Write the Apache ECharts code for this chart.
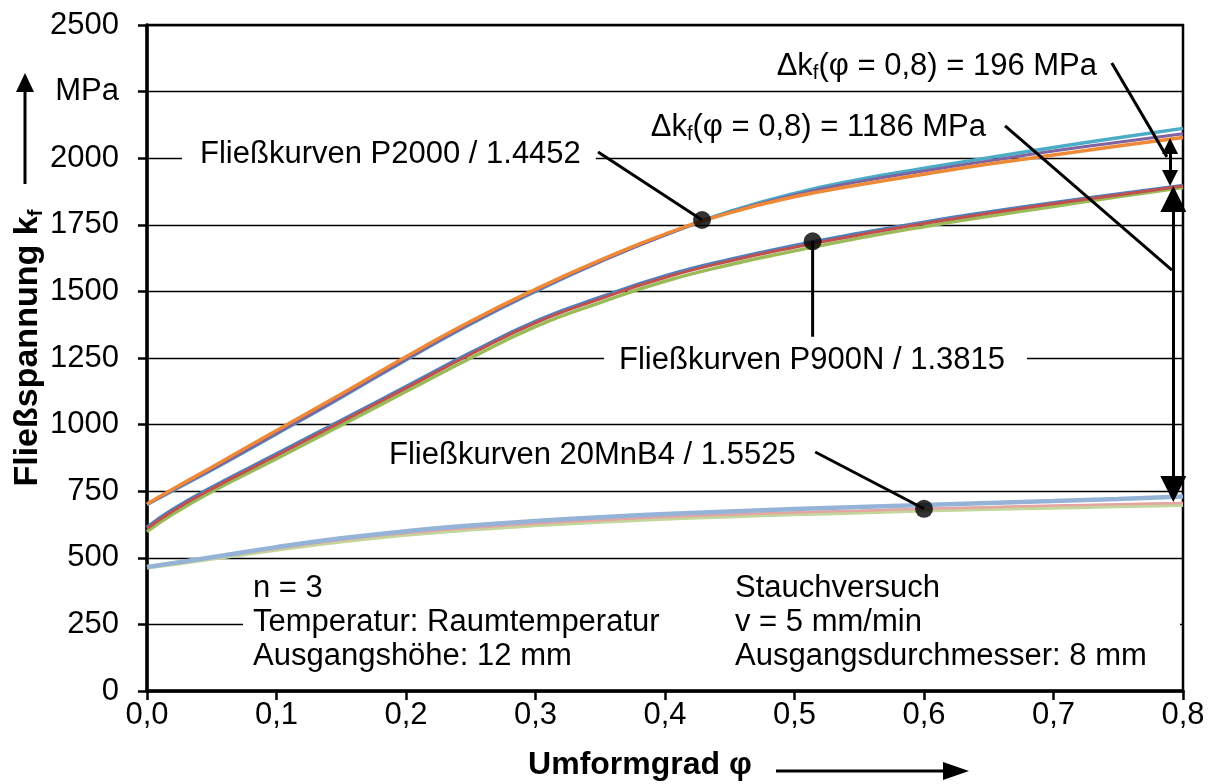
<!DOCTYPE html>
<html lang="de">
<head>
    <meta charset="UTF-8">
    <title>Fließkurven</title>
    <script src="https://cdn.jsdelivr.net/npm/echarts@6/dist/echarts.min.js"></script>
    <style>
        html, body { margin: 0; padding: 0; background: #fff; }
        #main { width: 1211px; height: 784px; }
    </style>
</head>
<body>
<div id="main"></div>
<script>
    // Umformgrad (x) – gemeinsame Stützstellen aller Kurven
    var phi = [0, 0.02, 0.05, 0.1, 0.15, 0.2, 0.25, 0.3, 0.35, 0.4, 0.45, 0.5, 0.55, 0.6, 0.65, 0.7, 0.75, 0.8];

    // P2000 / 1.4452
    var p2000Cyan   = [700, 752, 830, 965, 1102, 1243, 1378, 1500, 1612, 1712, 1800, 1868, 1920, 1962, 2002, 2040, 2077, 2112];
    var p2000Purple = [700, 754, 832, 967, 1104, 1245, 1380, 1502, 1612, 1711, 1797, 1862, 1912, 1952, 1990, 2027, 2060, 2092];
    var p2000Orange = [702, 758, 840, 978, 1115, 1255, 1388, 1508, 1617, 1715, 1795, 1855, 1900, 1940, 1978, 2012, 2046, 2078];

    // P900N / 1.3815
    var p900Blue  = [615, 682, 765, 890, 1016, 1143, 1270, 1388, 1478, 1558, 1620, 1672, 1718, 1760, 1798, 1833, 1866, 1898];
    var p900Green = [598, 664, 748, 872, 998, 1124, 1250, 1368, 1458, 1538, 1600, 1652, 1700, 1743, 1782, 1819, 1855, 1890];
    var p900Red   = [610, 676, 759, 884, 1010, 1137, 1264, 1382, 1472, 1552, 1614, 1666, 1712, 1755, 1793, 1829, 1862, 1896];

    // 20MnB4 / 1.5525
    var mnbGreen = [465, 478, 498, 532, 563, 588, 608, 624, 637, 648, 657, 665, 672, 679, 685, 690, 695, 700];
    var mnbPink  = [465, 479, 500, 535, 567, 592, 612, 628, 641, 653, 662, 670, 677, 684, 690, 696, 701, 706];
    var mnbBlue  = [465, 480, 502, 540, 573, 600, 621, 638, 652, 664, 674, 683, 691, 698, 706, 713, 721, 730];

    // Achsenbeschriftung
    var xTickLabels = ['0,0', '0,1', '0,2', '0,3', '0,4', '0,5', '0,6', '0,7', '0,8'];
    var yTickLabels = ['0', '250', '500', '750', '1000', '1250', '1500', '1750', '2000', 'MPa', '2500'];

    // Markierungspunkte und Hinweislinien (Datenkoordinaten)
    var markerDots = [[0.4286, 1768], [0.514, 1688], [0.6, 684]];
    var leaderLines = [
        [[0.3483, 2023], [0.4286, 1768]],
        [[0.514, 1688], [0.514, 1330]],
        [[0.516, 897], [0.6, 684]],
        [[0.745, 2357], [0.7876, 2005]],
        [[0.6626, 2121], [0.7915, 1580]]
    ];
    // Doppelpfeile Δkf (Schaftenden, Spitzen ragen um halbe Symbolgröße hinaus)
    var arrow196  = [[0.790, 1926], [0.790, 2046]];
    var arrow1186 = [[0.7925, 1847], [0.7925, 758]];

    function pts(ys) {
        return phi.map(function (x, i) { return [x, ys[i]]; });
    }

    var curves = [
        { data: mnbGreen, color: '#C3D69B', width: 5 },
        { data: mnbPink, color: '#E6A5A3', width: 2.5 },
        { data: mnbBlue, color: '#95B3D7', width: 4.5 },
        { data: p900Blue, color: '#4F81BD', width: 3.5 },
        { data: p900Green, color: '#9BBB59', width: 3.5 },
        { data: p900Red, color: '#C0504D', width: 3 },
        { data: p2000Cyan, color: '#4BACC6', width: 3.5 },
        { data: p2000Purple, color: '#8064A2', width: 3 },
        { data: p2000Orange, color: '#EE8A37', width: 3.5 }
    ];

    var FONT = '"Liberation Sans", Arial, sans-serif';

    var series = curves.map(function (c) {
        return {
            type: 'line',
            data: pts(c.data),
            smooth: true,
            showSymbol: false,
            lineStyle: { color: c.color, width: c.width },
            z: 3
        };
    });

    leaderLines.forEach(function (l) {
        series.push({
            type: 'line',
            data: l,
            showSymbol: false,
            lineStyle: { color: '#000', width: 3 },
            z: 5
        });
    });

    series.push({
        type: 'scatter',
        data: markerDots,
        symbolSize: 18,
        itemStyle: { color: '#000' },
        z: 6,
        markLine: {
            silent: true,
            symbol: ['triangle', 'triangle'],
            label: { show: false },
            lineStyle: { color: '#000', width: 3, type: 'solid' },
            data: [
                [{ coord: arrow196[0], symbolSize: 16 }, { coord: arrow196[1], symbolSize: 16 }],
                [{ coord: arrow1186[0], symbolSize: 26 }, { coord: arrow1186[1], symbolSize: 26 }]
            ]
        }
    });

    var txt = { fontFamily: 'Liberation Sans', fontSize: 31, lineHeight: 34, color: '#000' };
    var sub = { fontFamily: 'Liberation Sans', fontSize: 20, lineHeight: 16, verticalAlign: 'bottom', color: '#000' };

    function label(x, y, text, align, pad) {
        return {
            type: 'text', x: x, y: y, z: 20,
            style: {
                text: text, font: '31px ' + FONT, fill: '#000',
                align: align, verticalAlign: 'middle',
                backgroundColor: '#fff', padding: pad || [0, 0, 0, 0],
                rich: { a: txt, s: sub }
            }
        };
    }

    function block(x, text) {
        return {
            type: 'text', x: x, y: 622, z: 20,
            style: { text: text, font: '31px ' + FONT, fill: '#000', lineHeight: 34, verticalAlign: 'middle' }
        };
    }

    var graphics = [
        // weißes Feld unten
        { type: 'rect', z: 15, shape: { x: 243, y: 562, width: 937, height: 127 }, style: { fill: '#fff' } },
        block(253, 'n = 3\nTemperatur: Raumtemperatur\nAusgangshöhe: 12 mm'),
        block(735, 'Stauchversuch\nv = 5 mm/min\nAusgangsdurchmesser: 8 mm'),
        label(182, 154, 'Fließkurven P2000 / 1.4452', 'left', [2, 15, 2, 18]),
        label(1027, 360, 'Fließkurven P900N / 1.3815', 'right', [2, 22, 2, 15]),
        label(389, 455, 'Fließkurven 20MnB4 / 1.5525', 'left'),
        label(1097, 66, '{a|Δk}{s|f}{a|(φ = 0,8) = 196 MPa}', 'right'),
        label(986, 127, '{a|Δk}{s|f}{a|(φ = 0,8) = 1186 MPa}', 'right'),
        // Achsentitel
        {
            type: 'text', x: 28, y: 348, rotation: Math.PI / 2, z: 20,
            style: {
                text: '{a|Fließspannung k}{s|f}', align: 'center', verticalAlign: 'middle',
                rich: {
                    a: { fontFamily: 'Liberation Sans', fontWeight: 'bold', fontSize: 34, lineHeight: 38, color: '#000' },
                    s: { fontFamily: 'Liberation Sans', fontWeight: 'bold', fontSize: 21, lineHeight: 18, verticalAlign: 'bottom', color: '#000' }
                }
            }
        },
        { type: 'text', x: 640, y: 765, z: 20, style: { text: 'Umformgrad φ', font: 'bold 32px ' + FONT, fill: '#000', align: 'center', verticalAlign: 'middle' } },
        // Pfeile an den Achsentiteln
        { type: 'line', z: 20, shape: { x1: 25, y1: 184, x2: 25, y2: 90 }, style: { stroke: '#000', lineWidth: 3 } },
        { type: 'polygon', z: 20, shape: { points: [[16, 92], [25, 73], [34, 92]] }, style: { fill: '#000' } },
        { type: 'line', z: 20, shape: { x1: 776, y1: 771, x2: 945, y2: 771 }, style: { stroke: '#000', lineWidth: 3 } },
        { type: 'polygon', z: 20, shape: { points: [[943, 762], [969, 771], [943, 780]] }, style: { fill: '#000' } }
    ];

    var option = {
        animation: false,
        backgroundColor: '#fff',
        textStyle: { fontFamily: FONT },
        grid: {
            left: 147, right: 28, top: 25, bottom: 93,
            show: true, borderColor: '#000', borderWidth: 2.5, backgroundColor: 'transparent'
        },
        xAxis: {
            type: 'value', min: 0, max: 0.8, interval: 0.1,
            axisLine: { show: true, lineStyle: { color: '#000', width: 3.5 } },
            axisTick: { show: true, length: 9, lineStyle: { color: '#000', width: 2.5 } },
            splitLine: { show: false },
            axisLabel: {
                color: '#000', fontSize: 31, fontFamily: FONT, margin: 9,
                formatter: function (v) { return xTickLabels[Math.round(v * 10)]; }
            }
        },
        yAxis: {
            type: 'value', min: 0, max: 2500, interval: 250,
            axisLine: { show: true, lineStyle: { color: '#000', width: 3.5 } },
            axisTick: { show: true, length: 9, lineStyle: { color: '#000', width: 2.5 } },
            splitLine: { show: true, lineStyle: { color: '#000', width: 1.3 } },
            axisLabel: {
                color: '#000', fontSize: 31, fontFamily: FONT, margin: 28,
                formatter: function (v) { return yTickLabels[Math.round(v / 250)]; }
            }
        },
        series: series,
        graphic: graphics
    };

    var myChart = echarts.init(document.getElementById('main'));
    myChart.setOption(option);
</script>
</body>
</html>
